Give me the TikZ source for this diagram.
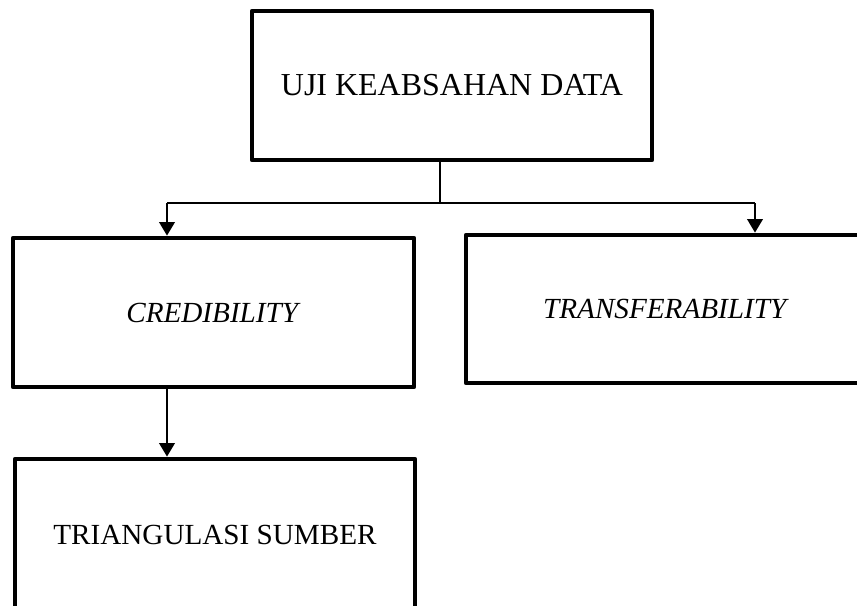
\documentclass[tikz,border=0pt]{standalone}
\usepackage{fontspec}
\setmainfont{Liberation Serif}
\usepackage{tikz}
\usetikzlibrary{positioning}
\usetikzlibrary{arrows.meta}

\tikzset{
  box/.style={draw=black, line width=0.095cm, line join=round, rectangle,
    minimum width=8cm, minimum height=2.98cm, inner sep=0pt,
    font=\fontsize{16.6}{20}\selectfont},
  link/.style={draw=black, line width=0.04cm},
  arr/.style={link, -{Triangle[width=0.31cm,length=0.27cm]}}
}

\begin{document}
\begin{tikzpicture}

\clip (0,0) rectangle (17.14,-12.12);
\fill[white] (0,0) rectangle (17.14,-12.12);

% boxes
{
\node[box, font=\fontsize{18.2}{22}\selectfont] (uji) at (9.04,-1.71) {UJI KEABSAHAN DATA};

\node[box, minimum width=8.02cm] (cred) at (4.27,-6.25) {\textit{CREDIBILITY}};

\node[box, minimum height=2.96cm] (trans) at (13.32,-6.18) {\textit{TRANSFERABILITY}};

\node[box, minimum height=3.04cm] (tri) at (4.30,-10.70) {TRIANGULASI SUMBER};
}

% branch points
\coordinate (split) at (8.79,-4.06);
\coordinate (jl) at (3.34,-4.06);
\coordinate (jr) at (15.10,-4.06);

% connectors
{
\draw[link] (uji.south -| split) -- (split);
\draw[link] (jl) -- (jr);

\draw[arr] (jl) -- (jl |- cred.north);
\draw[arr] (jr) -- (jr |- trans.north);

\draw[arr] (cred.south -| jl) -- (tri.north -| jl);
}

\end{tikzpicture}
\end{document}
